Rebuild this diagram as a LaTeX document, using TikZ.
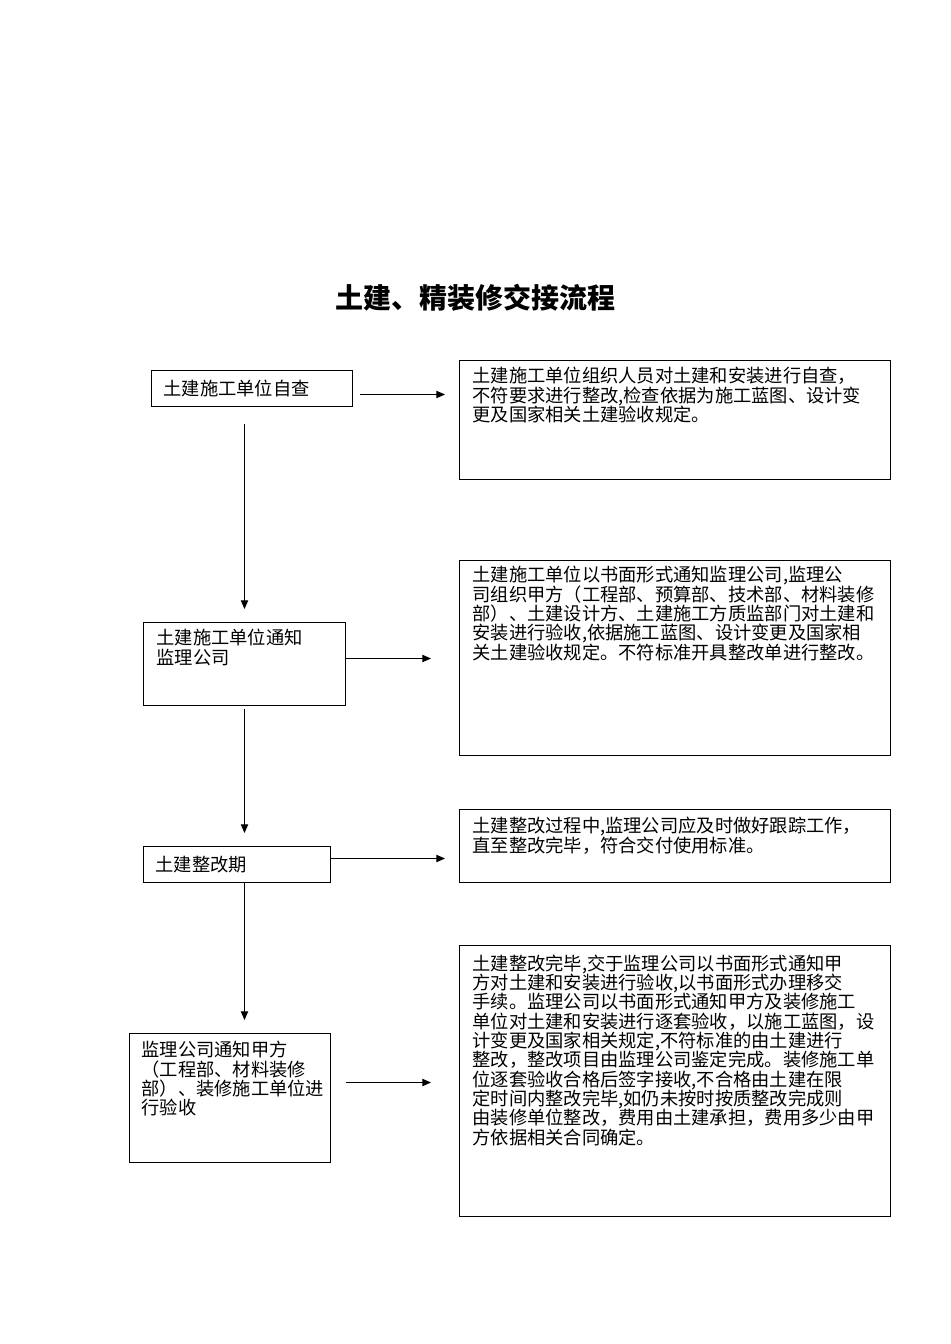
\documentclass[tikz,border=0pt]{standalone}
\usepackage{fontspec}
\setmainfont{Noto Sans CJK SC}
\usetikzlibrary{arrows.meta,calc}
\tikzset{every picture/.style={line width=0.75pt}}
\tikzset{
  box/.style={draw, anchor=north west, inner sep=0pt},
  txt/.style={inner sep=0pt, align=left, font=\fontsize{13.7pt}{14.5pt}\selectfont},
  arr/.style={-{Triangle[length=6.5pt,width=5.5pt]}},
}

\begin{document}
\begin{tikzpicture}[x=0.75pt,y=0.75pt,yscale=-1,xscale=1]
\path[use as bounding box] (0,0) rectangle (950,1344);

%Title
\node[font=\fontsize{21pt}{24pt}\selectfont\bfseries] (title) at (475,298) {土建、精装修交接流程};

%Left column
\node[box, minimum width=150.75pt, minimum height=27pt] (l1) at (151,370) {};
\node[txt, anchor=west] (l1t) at ($(l1.west)+(12,0)$) {土建施工单位自查};

\node[box, minimum width=151.5pt, minimum height=62.25pt] (l2) at (143,622) {};
\node[txt, anchor=north west] (l2t) at ($(l2.north west)+(13,7)$) {土建施工单位通知\\监理公司};

\node[box, minimum width=140.25pt, minimum height=27pt] (l3) at (143,846) {};
\node[txt, anchor=west] (l3t) at ($(l3.west)+(12,0)$) {土建整改期};

\node[box, minimum width=150.75pt, minimum height=96.75pt] (l4) at (129,1033) {};
\node[txt, anchor=north west] (l4t) at ($(l4.north west)+(12,8)$) {监理公司通知甲方\\（工程部、材料装修\\部）、装修施工单位进\\行验收};

%Right column
\node[box, minimum width=323.25pt, minimum height=89.25pt] (r1) at (459,360) {};
\node[txt, anchor=north west] (r1t) at ($(r1.north west)+(13,7)$) {土建施工单位组织人员对土建和安装进行自查，\\不符要求进行整改,检查依据为施工蓝图、设计变\\更及国家相关土建验收规定。};

\node[box, minimum width=323.25pt, minimum height=146.25pt] (r2) at (459,560) {};
\node[txt, anchor=north west] (r2t) at ($(r2.north west)+(13,6)$) {土建施工单位以书面形式通知监理公司,监理公\\司组织甲方（工程部、预算部、技术部、材料装修\\部）、土建设计方、土建施工方质监部门对土建和\\安装进行验收,依据施工蓝图、设计变更及国家相\\关土建验收规定。不符标准开具整改单进行整改。};

\node[box, minimum width=323.25pt, minimum height=54.75pt] (r3) at (459,809) {};
\node[txt, anchor=north west] (r3t) at ($(r3.north west)+(13,8)$) {土建整改过程中,监理公司应及时做好跟踪工作，\\直至整改完毕，符合交付使用标准。};

\node[box, minimum width=323.25pt, minimum height=203.25pt] (r4) at (459,945) {};
\node[txt, anchor=north west] (r4t) at ($(r4.north west)+(13,9)$) {土建整改完毕,交于监理公司以书面形式通知甲\\方对土建和安装进行验收,以书面形式办理移交\\手续。监理公司以书面形式通知甲方及装修施工\\单位对土建和安装进行逐套验收，以施工蓝图，设\\计变更及国家相关规定,不符标准的由土建进行\\整改，整改项目由监理公司鉴定完成。装修施工单\\位逐套验收合格后签字接收,不合格由土建在限\\定时间内整改完毕,如仍未按时按质整改完成则\\由装修单位整改，费用由土建承担，费用多少由甲\\方依据相关合同确定。};

%Arrows down
\draw[arr] ($(l2.north |- l1.south)+(0,17)$) -- ($(l2.north)+(0,-13)$);
\draw[arr] ($(l2.south)+(0,3)$) -- ($(l3.north -| l2.north)+(0,-13)$);
\draw[arr] (l3.south -| l2.north) -- ($(l4.north -| l2.north)+(0,-13)$);

%Arrows right
\draw[arr] ($(l1.east)+(7,6)$) -- ($(r1.west |- l1.east)+(-14,6)$);
\draw[arr] ($(l2.east)+(0,-5.5)$) -- ($(r2.west |- l2.east)+(-28,-5.5)$);
\draw[arr] ($(l3.east)+(0,-6)$) -- ($(r3.west |- l3.east)+(-14,-6)$);
\draw[arr] ($(l4.east)+(15,-15.5)$) -- ($(r4.west |- l4.east)+(-28,-15.5)$);

\end{tikzpicture}
\end{document}
